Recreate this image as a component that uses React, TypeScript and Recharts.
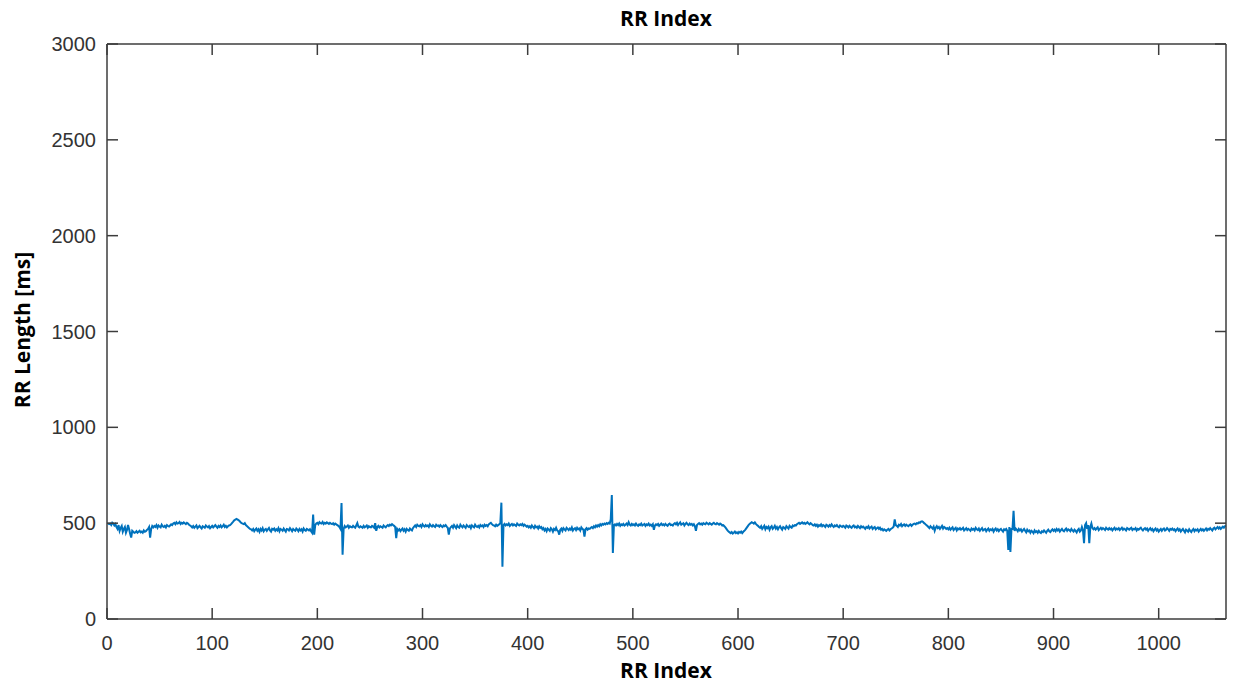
import { LineChart, Line, XAxis, YAxis } from "recharts"

// RR interval lengths in ms, one value per beat (index 1..1064)
const rrLengths: number[] = [
  500, 495, 498, 490, 502, 497, 488, 495, 480, 470, 490, 460, 475, 485, 455, 470, 480, 450, 465, 490,
  470, 445, 425, 460, 455, 450, 452, 458, 450, 455, 460, 452, 456, 450, 462, 455, 458, 465, 470, 480,
  425, 470, 485, 478, 485, 480, 490, 476, 488, 482, 478, 492, 484, 480, 486, 478, 490, 485, 482, 488,
  494, 490, 498, 502, 495, 505, 498, 500, 506, 496, 502, 498, 504, 500, 495, 502, 498, 492, 488, 484,
  478, 485, 476, 482, 488, 474, 480, 486, 478, 472, 484, 480, 476, 488, 482, 478, 485, 474, 480, 486,
  478, 484, 490, 482, 476, 486, 480, 488, 478, 484, 492, 480, 486, 478, 484, 488, 490, 495, 502, 508,
  515, 518, 522, 520, 516, 512, 505, 500, 498, 495, 500, 490, 485, 480, 475, 470, 468, 462, 470, 458,
  466, 472, 460, 468, 455, 470, 462, 474, 458, 466, 470, 460, 468, 475, 462, 456, 470, 466, 472, 460,
  468, 462, 474, 458, 470, 466, 460, 472, 464, 456, 470, 468, 462, 474, 466, 458, 470, 464, 460, 472,
  466, 458, 470, 462, 468, 456, 472, 464, 460, 470, 466, 462, 468, 458, 450, 545, 440, 490, 498, 502,
  495, 505, 500, 498, 506, 496, 502, 498, 504, 500, 496, 502, 498, 495, 500, 492, 498, 494, 490, 486,
  480, 470, 605, 335, 470, 485, 478, 482, 488, 476, 484, 480, 478, 486, 480, 476, 488, 500, 482, 478,
  484, 480, 476, 486, 478, 482, 488, 476, 484, 480, 478, 486, 482, 476, 500, 460, 480, 486, 478, 484,
  480, 476, 488, 482, 478, 486, 490, 485, 492, 488, 495, 490, 486, 480, 422, 470, 462, 468, 458, 466,
  472, 460, 468, 456, 470, 464, 460, 472, 466, 462, 475, 482, 488, 480, 492, 486, 484, 490, 480, 494,
  486, 482, 490, 484, 488, 480, 494, 486, 482, 490, 484, 480, 492, 486, 488, 482, 490, 484, 480, 488,
  484, 490, 482, 476, 440, 472, 480, 486, 476, 490, 482, 474, 488, 480, 476, 492, 484, 478, 488, 482,
  476, 490, 484, 480, 486, 474, 488, 482, 478, 492, 484, 480, 486, 478, 490, 484, 488, 480, 492, 486,
  490, 484, 494, 498, 502, 495, 490, 488, 484, 492, 486, 490, 494, 500, 607, 273, 490, 496, 488, 494,
  490, 498, 486, 492, 496, 488, 494, 490, 486, 498, 492, 488, 494, 490, 496, 486, 492, 488, 482, 486,
  478, 484, 476, 488, 480, 474, 486, 478, 482, 472, 484, 476, 480, 468, 474, 462, 470, 458, 472, 466,
  460, 474, 468, 456, 470, 464, 476, 462, 458, 440, 466, 472, 460, 474, 468, 462, 476, 470, 464, 472,
  466, 478, 462, 470, 474, 464, 476, 468, 472, 462, 478, 470, 466, 430, 468, 474, 466, 472, 470, 476,
  480, 474, 484, 478, 488, 482, 490, 484, 494, 488, 496, 492, 498, 494, 500, 496, 502, 498, 520, 647,
  344, 490, 494, 488, 496, 490, 498, 486, 494, 490, 496, 488, 492, 498, 490, 505, 492, 488, 496, 490,
  494, 488, 498, 490, 486, 494, 490, 498, 488, 492, 496, 486, 494, 490, 498, 488, 492, 486, 494, 465,
  488, 494, 490, 496, 486, 492, 498, 490, 494, 488, 496, 490, 486, 494, 498, 490, 492, 488, 496, 500,
  494, 502, 490, 498, 504, 492, 496, 500, 488, 496, 502, 494, 490, 498, 492, 496, 488, 494, 484, 460,
  490, 496, 500, 494, 498, 492, 500, 496, 494, 502, 498, 494, 500, 496, 492, 498, 502, 496, 494, 500,
  496, 492, 498, 494, 488, 490, 484, 478, 470, 462, 456, 452, 448, 454, 446, 450, 456, 448, 452, 446,
  454, 450, 456, 448, 455, 460, 466, 474, 482, 490, 496, 500, 505, 502, 498, 504, 496, 490, 486, 480,
  476, 484, 470, 478, 486, 468, 480, 474, 482, 466, 478, 484, 470, 476, 486, 472, 480, 468, 478, 484,
  474, 466, 480, 476, 470, 484, 478, 472, 486, 480, 476, 488, 484, 490, 488, 494, 498, 502, 496, 500,
  504, 498, 502, 496, 500, 505, 498, 494, 500, 496, 490, 488, 494, 486, 492, 482, 490, 486, 494, 484,
  490, 486, 480, 492, 488, 482, 490, 484, 494, 486, 480, 488, 484, 490, 482, 478, 488, 484, 480, 486,
  482, 476, 488, 484, 478, 486, 480, 476, 484, 488, 478, 482, 476, 486, 480, 474, 484, 478, 482, 476,
  470, 480, 476, 484, 472, 478, 482, 470, 476, 480, 468, 474, 478, 470, 476, 466, 470, 462, 468, 464,
  460, 466, 470, 462, 468, 472, 476, 482, 520, 490, 486, 480, 492, 488, 496, 484, 490, 494, 486, 492,
  488, 484, 490, 494, 486, 492, 496, 498, 494, 500, 498, 504, 502, 508, 510, 506, 500, 496, 490, 486,
  480, 474, 484, 478, 472, 482, 460, 476, 484, 474, 480, 470, 478, 486, 472, 480, 476, 470, 474, 468,
  476, 466, 472, 478, 464, 470, 476, 462, 472, 468, 474, 466, 470, 476, 462, 468, 474, 464, 470, 466,
  460, 472, 466, 470, 462, 476, 468, 464, 472, 460, 468, 474, 462, 466, 470, 458, 466, 472, 460, 468,
  464, 470, 456, 466, 472, 462, 468, 458, 466, 470, 462, 456, 468, 464, 470, 460, 360, 480, 350, 470,
  470, 565, 460, 472, 466, 458, 470, 462, 468, 456, 464, 470, 460, 452, 466, 458, 462, 450, 460, 456,
  448, 462, 454, 458, 450, 460, 452, 448, 458, 454, 462, 456, 450, 460, 466, 458, 454, 462, 468, 460,
  466, 458, 470, 462, 468, 456, 464, 470, 462, 458, 466, 472, 460, 468, 464, 458, 470, 462, 456, 466,
  460, 452, 464, 470, 456, 462, 480, 465, 395, 490, 500, 470, 490, 395, 480, 498, 475, 468, 474, 466,
  472, 478, 464, 470, 476, 468, 474, 470, 464, 476, 470, 466, 474, 468, 472, 462, 470, 476, 466, 472,
  468, 474, 464, 470, 476, 466, 472, 468, 462, 474, 470, 466, 472, 476, 464, 470, 468, 474, 462, 470,
  466, 472, 476, 468, 462, 470, 474, 466, 472, 460, 468, 474, 464, 470, 458, 466, 472, 462, 468, 456,
  464, 470, 460, 468, 472, 462, 466, 474, 468, 460, 470, 466, 472, 464, 468, 458, 466, 472, 462, 468,
  456, 464, 470, 460, 452, 466, 462, 456, 468, 460, 454, 464, 470, 458, 466, 462, 468, 456, 464, 470,
  462, 468, 460, 466, 472, 462, 470, 466, 474, 468, 462, 472, 476, 468, 474, 480, 472, 478, 470, 476,
  482, 476, 484, 488,
]

const xTicks = [0, 100, 200, 300, 400, 500, 600, 700, 800, 900, 1000]
const yTicks = [0, 500, 1000, 1500, 2000, 2500, 3000]
const xMax = 1064
const yMax = 3000

const chartData = rrLengths.map((rr, i) => ({ index: i + 1, rr }))

const axisColor = "#3c3c3c"
const tickStyle = { fill: "#333", fontSize: 20, fontFamily: "'Liberation Sans', Arial, sans-serif" }
const noLabel = () => <g />
const labelStyle: React.CSSProperties = {
  position: "absolute",
  fontFamily: "'Open Sans', sans-serif",
  fontWeight: 700,
  fontSize: 21,
  color: "#000",
  whiteSpace: "nowrap",
  lineHeight: 1,
}

export default function App() {
  return (
    <div style={{ position: "absolute", left: 0, top: 0, width: 1233, height: 684, background: "#fff" }}>
      <LineChart width={1233} height={684} data={chartData} margin={{ top: 43, right: 6, bottom: 0, left: 0 }}>
        <XAxis
          dataKey="index"
          type="number"
          domain={[0, xMax]}
          ticks={xTicks}
          allowDataOverflow
          height={65}
          tickSize={-11}
          tickMargin={28}
          tick={tickStyle}
          stroke={axisColor}
          strokeWidth={1.5}
        />
        <XAxis
          xAxisId="top"
          orientation="top"
          dataKey="index"
          type="number"
          domain={[0, xMax]}
          ticks={xTicks}
          allowDataOverflow
          height={1}
          tickSize={-11}
          tick={noLabel}
          stroke={axisColor}
          strokeWidth={1.5}
        />
        <YAxis
          type="number"
          domain={[0, yMax]}
          ticks={yTicks}
          allowDataOverflow
          width={107}
          tickSize={-11}
          tickMargin={22}
          tick={tickStyle}
          stroke={axisColor}
          strokeWidth={1.5}
        />
        <YAxis
          yAxisId="right"
          orientation="right"
          type="number"
          domain={[0, yMax]}
          ticks={yTicks}
          allowDataOverflow
          width={1}
          tickSize={-11}
          tick={noLabel}
          stroke={axisColor}
          strokeWidth={1.5}
        />
        <Line
          type="linear"
          dataKey="rr"
          stroke="#0072BD"
          strokeWidth={2}
          dot={false}
          activeDot={false}
          isAnimationActive={false}
        />
      </LineChart>
      <div style={{ ...labelStyle, left: 666, top: 18, transform: "translate(-50%, -50%)" }}>RR Index</div>
      <div style={{ ...labelStyle, left: 666, top: 670, transform: "translate(-50%, -50%)" }}>RR Index</div>
      <div style={{ ...labelStyle, left: 22, top: 330, transform: "translate(-50%, -50%) rotate(-90deg)" }}>
        RR Length [ms]
      </div>
    </div>
  )
}
